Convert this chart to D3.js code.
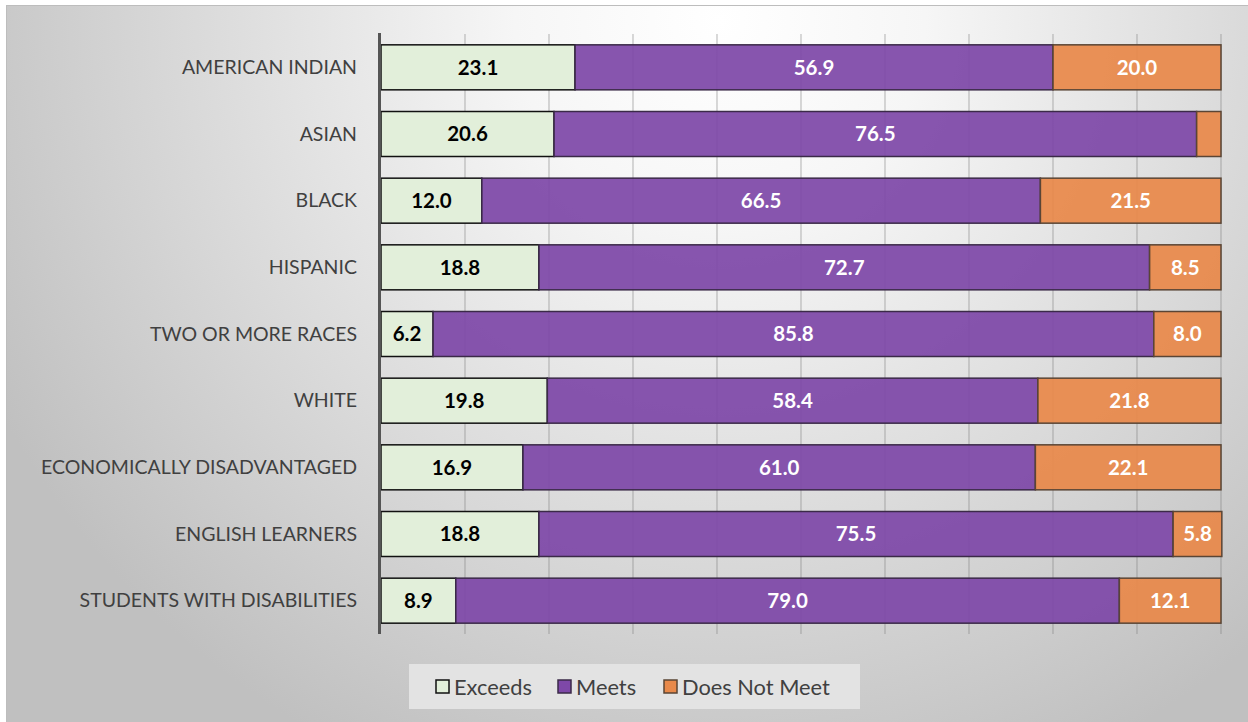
<!DOCTYPE html>
<html>
<head>
<meta charset="utf-8">
<script src="https://cdn.jsdelivr.net/npm/d3@7"></script>
<style>
  body { margin: 0; background: #fff; }
  svg { display: block; }
</style>
</head>
<body>
<script>
const width = 1248, height = 722;

const groups = ["AMERICAN INDIAN", "ASIAN", "BLACK", "HISPANIC", "TWO OR MORE RACES",
  "WHITE", "ECONOMICALLY DISADVANTAGED", "ENGLISH LEARNERS", "STUDENTS WITH DISABILITIES"];
const exceeds = [23.1, 20.6, 12.0, 18.8, 6.2, 19.8, 16.9, 18.8, 8.9];
const meets = [56.9, 76.5, 66.5, 72.7, 85.8, 58.4, 61.0, 75.5, 79.0];
const doesNotMeet = [20.0, 2.9, 21.5, 8.5, 8.0, 21.8, 22.1, 5.8, 12.1];
const seriesNames = ["Exceeds", "Meets", "Does Not Meet"];
const xTicks = [0, 10, 20, 30, 40, 50, 60, 70, 80, 90, 100];

const rows = groups.map((g, i) => ({
  group: g, "Exceeds": exceeds[i], "Meets": meets[i], "Does Not Meet": doesNotMeet[i]
}));
const stacked = d3.stack().keys(seriesNames)(rows);

const fills = { "Exceeds": "#e2efda", "Meets": "#7e48a8", "Does Not Meet": "#e8894a" };
const strokes = { "Exceeds": "#111", "Meets": "#3b2a48", "Does Not Meet": "#5a4535" };
const textCol = { "Exceeds": "#000", "Meets": "#fff", "Does Not Meet": "#fff" };

const svg = d3.select("body").append("svg")
  .attr("width", width).attr("height", height);

const defs = svg.append("defs");
const grad = defs.append("radialGradient")
  .attr("id", "bg")
  .attr("gradientUnits", "userSpaceOnUse")
  .attr("cx", 720).attr("cy", 20).attr("r", 820);
grad.append("stop").attr("offset", "0").attr("stop-color", "#ffffff");
grad.append("stop").attr("offset", "0.25").attr("stop-color", "#f6f6f6");
grad.append("stop").attr("offset", "1").attr("stop-color", "#c0c0c0");

svg.append("rect")
  .attr("x", 6.5).attr("y", 5.5)
  .attr("width", width - 6).attr("height", height - 5)
  .attr("fill", "url(#bg)")
  .attr("stroke", "#bdbdbd");

const x = d3.scaleLinear().domain([0, 100]).range([381, 1221]);
const y = d3.scaleBand().domain(groups).range([34, 634]).paddingInner(0.325).paddingOuter(0.1625);

// gridlines
svg.append("g")
  .selectAll("line")
  .data(xTicks.slice(1))
  .join("line")
  .attr("x1", d => x(d)).attr("x2", d => x(d))
  .attr("y1", 34).attr("y2", 634)
  .attr("stroke", "#808080")
  .attr("stroke-opacity", 0.45)
  .attr("stroke-width", 1.3);

// bars
const layer = svg.append("g")
  .selectAll("g")
  .data(stacked)
  .join("g");

layer.selectAll("rect")
  .data(d => d.map(v => ({ key: d.key, v })))
  .join("rect")
  .attr("x", d => x(d.v[0]))
  .attr("y", d => y(d.v.data.group))
  .attr("width", d => x(d.v[1]) - x(d.v[0]))
  .attr("height", y.bandwidth())
  .attr("fill", d => fills[d.key])
  .attr("fill-opacity", d => d.key === "Exceeds" ? 1 : 0.93)
  .attr("stroke", d => strokes[d.key])
  .attr("stroke-width", 1.5);

layer.selectAll("text")
  .data(d => d.map(v => ({ key: d.key, v })).filter(d => d.v[1] - d.v[0] > 4))
  .join("text")
  .attr("x", d => (x(d.v[0]) + x(d.v[1])) / 2)
  .attr("y", d => y(d.v.data.group) + y.bandwidth() / 2)
  .attr("dy", "0.35em")
  .attr("text-anchor", "middle")
  .attr("font-family", "Lato, 'Open Sans', sans-serif")
  .attr("font-weight", "bold")
  .attr("font-size", 20.5)
  .attr("fill", d => textCol[d.key])
  .text(d => d3.format(".1f")(d.v[1] - d.v[0]));

// vertical axis
svg.append("line")
  .attr("x1", 379.5).attr("x2", 379.5)
  .attr("y1", 33).attr("y2", 634)
  .attr("stroke", "#555")
  .attr("stroke-width", 3);

svg.append("g")
  .selectAll("text")
  .data(groups)
  .join("text")
  .attr("x", 357)
  .attr("y", d => y(d) + y.bandwidth() / 2)
  .attr("dy", "0.35em")
  .attr("text-anchor", "end")
  .attr("font-family", "Lato, 'Open Sans', sans-serif")
  .attr("font-size", 19.5)
  .attr("fill", "#404040")
  .text(d => d);

// legend
const legend = svg.append("g");
legend.append("rect")
  .attr("x", 409).attr("y", 664)
  .attr("width", 451).attr("height", 45)
  .attr("fill", "#e3e3e3");

const legX = [436, 558, 664];
const item = legend.selectAll("g")
  .data(seriesNames)
  .join("g")
  .attr("transform", (d, i) => `translate(${legX[i]},680)`);
item.append("rect")
  .attr("width", 13).attr("height", 13)
  .attr("fill", d => fills[d])
  .attr("stroke", d => strokes[d])
  .attr("stroke-width", 1.5);
item.append("text")
  .attr("x", 18).attr("y", 7)
  .attr("dy", "0.35em")
  .attr("font-family", "Lato, 'Open Sans', sans-serif")
  .attr("font-size", 21.8)
  .attr("fill", "#404040")
  .text(d => d);
</script>
</body>
</html>
